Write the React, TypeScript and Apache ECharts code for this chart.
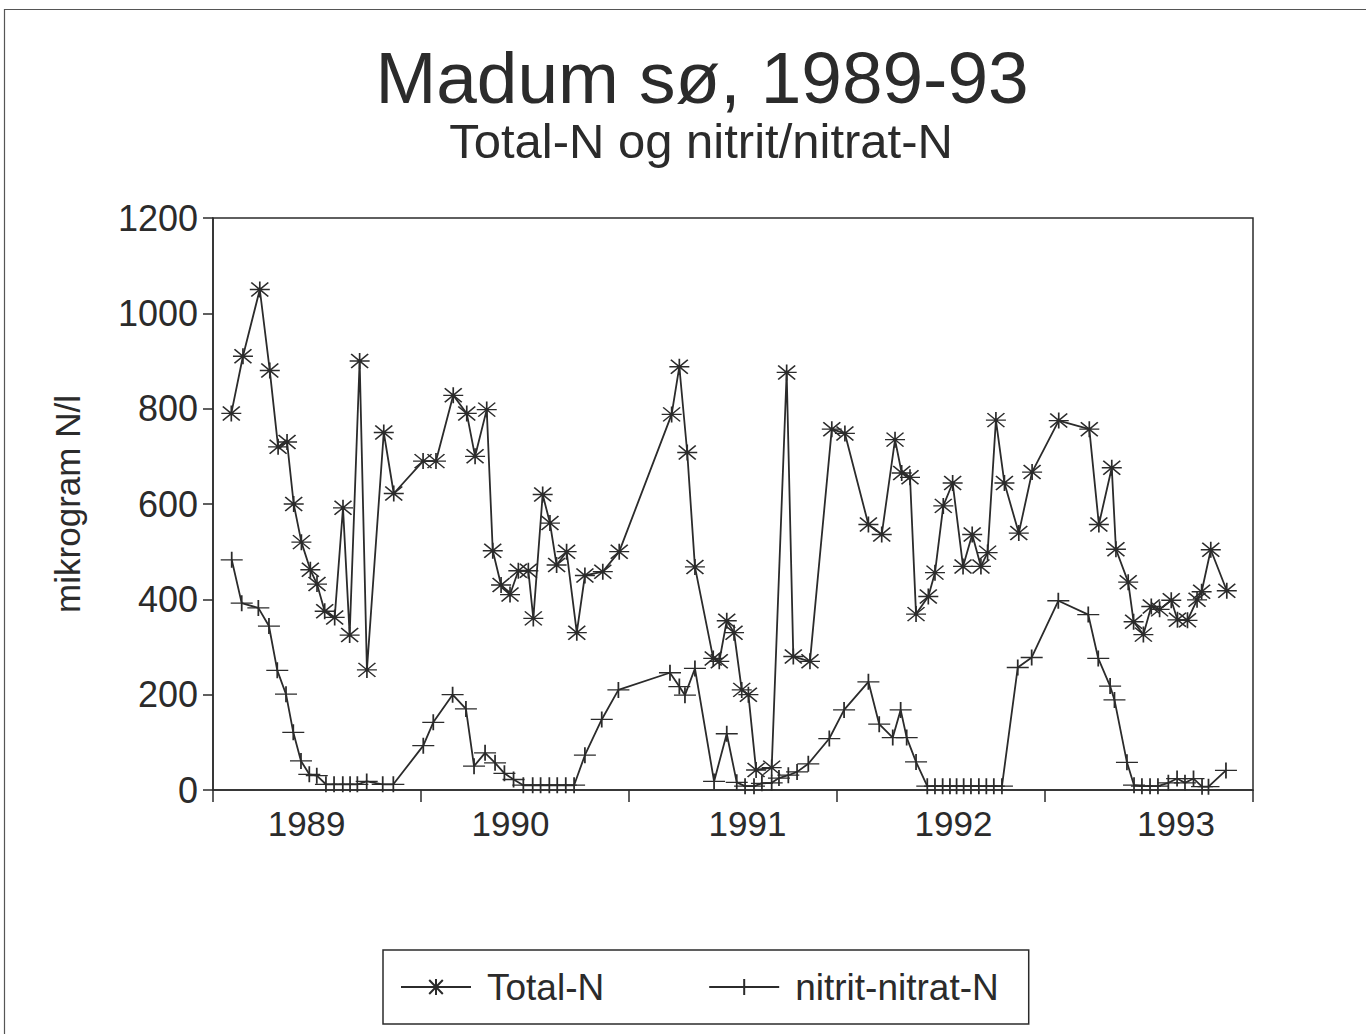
import React, { useEffect, useRef } from "react";
import * as echarts from "echarts";

const titleText = "Madum sø, 1989-93";
const subtitleText = "Total-N og nitrit/nitrat-N";
const yAxisName = "mikrogram N/l";
const seriesNames = ["Total-N", "nitrit-nitrat-N"];

const yearTicks = [1989, 1990, 1991, 1992, 1993, 1994];
const yearLabelPositions = [1989.45, 1990.43, 1991.57, 1992.56, 1993.63];

const totalNYears = [
  1989.088, 1989.144, 1989.225, 1989.273, 1989.313, 1989.356, 1989.388, 1989.425, 1989.468, 1989.5,
  1989.537, 1989.585, 1989.625, 1989.657, 1989.705, 1989.74, 1989.821, 1989.869,
  1990.01, 1990.072, 1990.155, 1990.22, 1990.26, 1990.316, 1990.345, 1990.385, 1990.428, 1990.468,
  1990.516, 1990.54, 1990.585, 1990.62, 1990.652, 1990.7, 1990.749, 1990.788, 1990.874, 1990.953,
  1991.205, 1991.242, 1991.28, 1991.317, 1991.405, 1991.434, 1991.47, 1991.505, 1991.542, 1991.574,
  1991.611, 1991.686, 1991.758, 1991.79, 1991.87, 1991.975,
  1992.038, 1992.151, 1992.215, 1992.279, 1992.311, 1992.351, 1992.38, 1992.439, 1992.471, 1992.511,
  1992.556, 1992.606, 1992.65, 1992.692, 1992.724, 1992.764, 1992.805, 1992.874, 1992.938,
  1993.066, 1993.213, 1993.259, 1993.321, 1993.341, 1993.4, 1993.426, 1993.473, 1993.511, 1993.551,
  1993.607, 1993.637, 1993.685, 1993.731, 1993.753, 1993.797, 1993.874,
];
const totalNValues = [
  790, 910, 1050, 880, 720, 730, 600, 520, 462, 432,
  375, 362, 592, 325, 900, 252, 750, 622,
  690, 690, 828, 790, 700, 798, 502, 430, 410, 460,
  460, 360, 620, 560, 472, 500, 330, 450, 458, 500,
  788, 888, 708, 468, 276, 270, 355, 330, 210, 200,
  42, 47, 876, 280, 270, 757,
  748, 557, 536, 735, 665, 656, 369, 406, 456, 596,
  644, 469, 536, 469, 498, 776, 644, 539, 667,
  775, 757, 557, 676, 505, 436, 353, 326, 385, 379,
  398, 357, 356, 399, 416, 504, 418,
];

const nitrateYears = [
  1989.09, 1989.138, 1989.218, 1989.269, 1989.309, 1989.351, 1989.386, 1989.423, 1989.463, 1989.499,
  1989.543, 1989.582, 1989.624, 1989.659, 1989.694, 1989.739, 1989.816, 1989.867,
  1990.011, 1990.059, 1990.152, 1990.216, 1990.255, 1990.308, 1990.356, 1990.401, 1990.445, 1990.492,
  1990.537, 1990.575, 1990.617, 1990.655, 1990.696, 1990.736, 1990.788, 1990.869, 1990.949,
  1991.197, 1991.242, 1991.269, 1991.317, 1991.409, 1991.47, 1991.518, 1991.558, 1991.601, 1991.639,
  1991.686, 1991.721, 1991.766, 1991.808, 1991.862, 1991.963,
  1992.034, 1992.151, 1992.203, 1992.268, 1992.306, 1992.335, 1992.38, 1992.434, 1992.471, 1992.508,
  1992.543, 1992.575, 1992.609, 1992.644, 1992.682, 1992.718, 1992.754, 1992.793, 1992.869, 1992.936,
  1993.064, 1993.208, 1993.256, 1993.313, 1993.334, 1993.394, 1993.428, 1993.466, 1993.505, 1993.543,
  1993.593, 1993.635, 1993.673, 1993.714, 1993.755, 1993.786, 1993.87,
];
const nitrateValues = [
  483, 392, 382, 344, 251, 201, 121, 61, 33, 30,
  12, 12, 12, 12, 12, 18, 12, 12,
  93, 142, 200, 170, 50, 78, 57, 35, 22, 10,
  10, 10, 10, 10, 10, 10, 73, 148, 210,
  246, 217, 199, 255, 18, 118, 16, 8, 8, 14,
  15, 25, 31, 38, 55, 108,
  168, 227, 138, 110, 168, 110, 59, 8, 8, 8,
  8, 8, 8, 8, 8, 8, 8, 8, 257, 278,
  397, 368, 276, 218, 189, 58, 10, 8, 8, 8,
  15, 24, 15, 24, 7, 7, 41,
];

const starSymbol = "path://M10 0 L10 16 M0 8 L20 8 M1.5 1 L18.5 15 M1.5 15 L18.5 1";
const plusSymbol = "path://M0 8 L22 8 M11 0 L11 16";

const ink = "#2b2b2b";
const fontFamily = "'Liberation Sans', Arial, Helvetica, sans-serif";

export default function App() {
  const ref = useRef<HTMLDivElement>(null);

  useEffect(() => {
    if (!ref.current) return;
    const chart = echarts.init(ref.current, undefined, { renderer: "svg" });
    const totalData = totalNYears.map((x, i) => [x, totalNValues[i]]);
    const nitrateData = nitrateYears.map((x, i) => [x, nitrateValues[i]]);

    chart.setOption({
      animation: false,
      backgroundColor: "#ffffff",
      textStyle: { fontFamily, color: ink },
      title: [
        {
          text: titleText,
          left: 697,
          top: 36,
          textAlign: "center",
          textStyle: { fontSize: 73, fontWeight: "normal", color: ink, fontFamily },
        },
        {
          text: subtitleText,
          left: 696,
          top: 111,
          textAlign: "center",
          textStyle: { fontSize: 49, fontWeight: "normal", color: ink, fontFamily },
        },
      ],
      graphic: [
        {
          type: "rect",
          left: 2,
          top: 7,
          shape: { width: 1400, height: 1100 },
          style: { fill: "none", stroke: "#555", lineWidth: 1.2 },
          silent: true,
        },
      ],
      grid: {
        left: 213,
        top: 218,
        right: 113,
        bottom: 244,
        show: true,
        borderColor: ink,
        borderWidth: 1.5,
        backgroundColor: "transparent",
      },
      legend: {
        left: 383,
        top: 950,
        orient: "horizontal",
        padding: [16, 30, 16, 17],
        itemGap: 104,
        itemWidth: 70,
        itemHeight: 20,
        borderColor: ink,
        borderWidth: 1.5,
        textStyle: { fontSize: 37, color: ink, fontFamily, lineHeight: 42, padding: [0, 0, 0, 11] },
        data: seriesNames,
      },
      xAxis: {
        type: "value",
        min: 1989,
        max: 1994,
        interval: 1,
        axisLine: { show: true, lineStyle: { color: ink, width: 1.5 } },
        axisTick: { show: true, length: 12, customValues: yearTicks, lineStyle: { color: ink, width: 1.5 } },
        axisLabel: {
          customValues: yearLabelPositions,
          formatter: (v: number) => String(Math.floor(v)),
          fontSize: 35,
          color: ink,
          fontFamily,
          margin: 16,
        },
        splitLine: { show: false },
      },
      yAxis: {
        type: "value",
        min: 0,
        max: 1200,
        interval: 200,
        name: yAxisName,
        nameLocation: "middle",
        nameRotate: 90,
        nameGap: 128,
        nameTextStyle: { fontSize: 35, color: ink, fontFamily },
        axisLine: { show: true, lineStyle: { color: ink, width: 1.5 } },
        axisTick: { show: true, length: 10, lineStyle: { color: ink, width: 1.5 } },
        axisLabel: {
          fontSize: 36,
          color: ink,
          fontFamily,
          margin: 15,
          formatter: (v: number) => String(v),
        },
        splitLine: { show: false },
      },
      series: [
        {
          name: seriesNames[0],
          type: "line",
          data: totalData,
          symbol: starSymbol,
          symbolSize: [20, 16],
          showAllSymbol: true,
          lineStyle: { color: ink, width: 1.8 },
          itemStyle: { color: ink, borderColor: ink, borderWidth: 1.5 },
          z: 3,
        },
        {
          name: seriesNames[1],
          type: "line",
          data: nitrateData,
          symbol: plusSymbol,
          symbolSize: [22, 16],
          showAllSymbol: true,
          lineStyle: { color: ink, width: 1.8 },
          itemStyle: { color: ink, borderColor: ink, borderWidth: 1.5 },
          z: 2,
        },
      ],
    });

    return () => chart.dispose();
  }, []);

  return (
    <div
      ref={ref}
      style={{ position: "absolute", left: 0, top: 0, width: 1366, height: 1034, background: "#fff" }}
    />
  );
}
